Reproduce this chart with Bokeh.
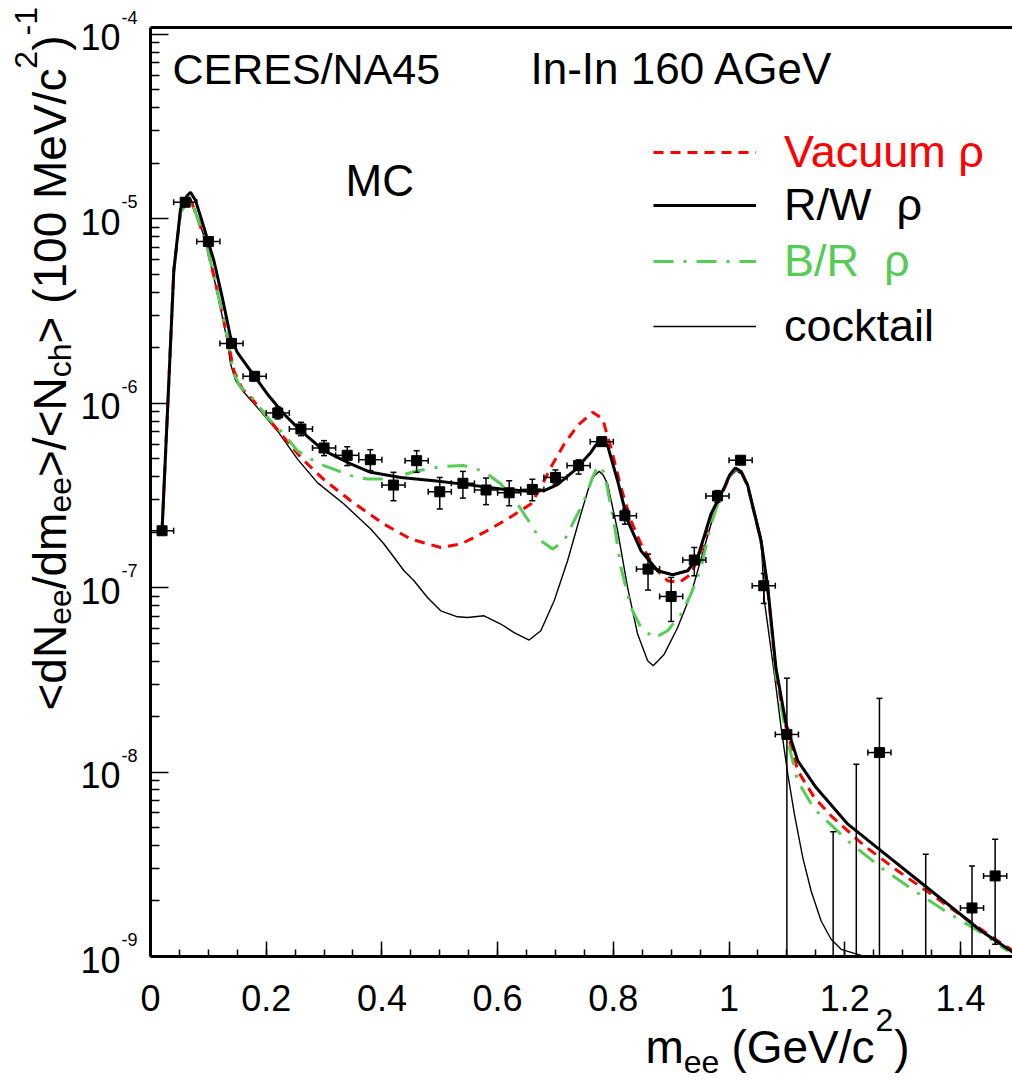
import math
from bokeh.plotting import figure
from bokeh.layouts import column, row
from bokeh.models import (Range1d, FixedTicker, Label, Legend, LegendItem, LinearAxis,
                          CustomJSTickFormatter, ColumnDataSource)
from bokeh.embed import file_html
from bokeh.resources import INLINE

FONT = "Liberation Sans"

# ---------------- data ----------------
pt_x = [0.02, 0.06, 0.10, 0.14, 0.18, 0.22, 0.26, 0.30, 0.34, 0.38, 0.42, 0.46,
        0.50, 0.54, 0.58, 0.62, 0.66, 0.70, 0.74, 0.78, 0.82, 0.86, 0.90, 0.94,
        0.98, 1.02, 1.06, 1.10, 1.18, 1.22, 1.26, 1.34, 1.42, 1.46]
pt_y = [2.035e-7, 1.23e-5, 7.53e-6, 2.11e-6, 1.40e-6, 8.86e-7, 7.25e-7, 5.72e-7,
        5.22e-7, 4.94e-7, 3.60e-7, 4.88e-7, 3.31e-7, 3.68e-7, 3.385e-7, 3.27e-7,
        3.41e-7, 3.96e-7, 4.59e-7, 6.19e-7, 2.455e-7, 1.261e-7, 8.96e-8, 1.412e-7,
        3.14e-7, 4.91e-7, 1.024e-7, 1.60e-8, 5e-10, 5e-10, 1.276e-8, 5e-10,
        1.833e-9, 2.735e-9]
pt_lo = [2.0e-7, 1.20e-5, 7.2e-6, 2.02e-6, 1.33e-6, 8.22e-7, 6.67e-7, 5.20e-7,
         4.59e-7, 4.31e-7, 2.96e-7, 4.22e-7, 2.67e-7, 3.06e-7, 2.82e-7, 2.78e-7,
         2.96e-7, 3.65e-7, 4.13e-7, 5.89e-7, 2.21e-7, 9.70e-8, 6.56e-8, 1.16e-7,
         2.90e-7, 4.70e-7, 8.21e-8, 1e-10, 1e-10, 1e-10, 1e-10, 1e-10,
         1e-10, 1.165e-9]
pt_hi = [2.07e-7, 1.26e-5, 7.9e-6, 2.20e-6, 1.47e-6, 9.55e-7, 7.88e-7, 6.27e-7,
         5.81e-7, 5.60e-7, 4.22e-7, 5.53e-7, 3.96e-7, 4.27e-7, 3.93e-7, 3.80e-7,
         3.87e-7, 4.35e-7, 4.93e-7, 6.53e-7, 2.67e-7, 1.521e-7, 1.136e-7, 1.652e-7,
         3.36e-7, 5.13e-7, 1.194e-7, 3.23e-8, 4.75e-9, 1.104e-8, 2.51e-8, 3.59e-9,
         3.10e-9, 4.32e-9]
pt_xerr = [0.02] * len(pt_x)

rw_x = [0.0202, 0.0289, 0.0403, 0.0519, 0.0635, 0.0692, 0.0779, 0.0922, 0.1095,
        0.1240, 0.1384, 0.15, 0.173, 0.2019, 0.2306, 0.2595, 0.2998, 0.346, 0.3806,
        0.4325, 0.4901, 0.5479, 0.6055, 0.6517, 0.6804, 0.7036, 0.7324, 0.7612,
        0.770, 0.7785, 0.785, 0.7901, 0.8074, 0.8247, 0.8478, 0.8766, 0.9026, 0.9286,
        0.9458, 0.9689, 0.9919, 1.0015, 1.0109, 1.0215, 1.0324, 1.0554, 1.067,
        1.0813, 1.0986, 1.1189, 1.1505, 1.2054, 1.263, 1.3206, 1.3784, 1.436, 1.4917]
rw_y = [2.12e-7, 8.38e-7, 5.24e-6, 1.133e-5, 1.338e-5, 1.394e-5, 1.257e-5, 9.0e-6,
        5.94e-6, 3.75e-6, 2.28e-6, 1.89e-6, 1.50e-6, 1.123e-6, 8.75e-7, 7.10e-7,
        5.53e-7, 4.69e-7, 4.22e-7, 3.96e-7, 3.80e-7, 3.62e-7, 3.43e-7, 3.33e-7,
        3.36e-7, 3.62e-7, 4.31e-7, 5.41e-7, 5.95e-7, 6.27e-7, 6.2e-7, 5.89e-7,
        3.80e-7, 2.31e-7, 1.586e-7, 1.235e-7, 1.175e-7, 1.235e-7, 1.458e-7, 2.51e-7,
        3.50e-7, 4.1e-7, 4.46e-7, 4.25e-7, 3.57e-7, 1.797e-7, 1.0e-7, 3.63e-8,
        1.82e-8, 1.15e-8, 8.24e-9, 5.22e-9, 3.74e-9, 2.68e-9, 1.92e-9, 1.375e-9,
        1.05e-9]

vac_x = [0.0202, 0.0289, 0.0403, 0.0519, 0.068, 0.0952, 0.1154, 0.1327, 0.1441,
         0.1587, 0.173, 0.2019, 0.2306, 0.2595, 0.2998, 0.346, 0.4036, 0.4498,
         0.5017, 0.5363, 0.5766, 0.6171, 0.6574, 0.6747, 0.692, 0.7151, 0.7382,
         0.7642, 0.7815, 0.7958, 0.8131, 0.8304, 0.8478, 0.8708, 0.8939, 0.914,
         0.9343, 0.9516, 0.9689, 0.9919, 1.0015, 1.0109, 1.0215, 1.0324, 1.0554,
         1.067, 1.0813, 1.0986, 1.1189, 1.1476, 1.1765, 1.2341, 1.2919, 1.3495,
         1.4071, 1.4649, 1.4917]
vac_y = [2.12e-7, 8.38e-7, 5.24e-6, 1.082e-5, 1.31e-5, 7.62e-6, 4.08e-6, 2.28e-6,
         1.50e-6, 1.196e-6, 1.076e-6, 8.38e-7, 6.53e-7, 5.09e-7, 3.85e-7, 2.96e-7,
         2.21e-7, 1.835e-7, 1.652e-7, 1.724e-7, 1.993e-7, 2.356e-7, 2.84e-7,
         3.50e-7, 4.49e-7, 6.01e-7, 7.56e-7, 8.93e-7, 8.22e-7, 5.76e-7, 3.50e-7,
         2.31e-7, 1.724e-7, 1.287e-7, 1.09e-7, 1.067e-7, 1.185e-7, 1.586e-7,
         2.455e-7, 3.44e-7, 4.05e-7, 4.40e-7, 4.2e-7, 3.55e-7, 1.78e-7, 9.8e-8,
         3.4e-8, 1.745e-8, 1.015e-8, 7.27e-9, 5.79e-9, 3.98e-9, 2.91e-9, 2.175e-9,
         1.623e-9, 1.214e-9, 1.07e-9]

br_x = [0.0202, 0.0289, 0.0403, 0.0519, 0.068, 0.0952, 0.1154, 0.1327, 0.1384,
        0.1441, 0.1557, 0.173, 0.2019, 0.2306, 0.2538, 0.2768, 0.2998, 0.346,
        0.3749, 0.4036, 0.4325, 0.4614, 0.5017, 0.542, 0.5766, 0.6055, 0.6344,
        0.6574, 0.6747, 0.695, 0.7151, 0.7324, 0.7497, 0.7642, 0.770, 0.7756,
        0.781, 0.7872, 0.8016, 0.8131, 0.8304, 0.8478, 0.8708, 0.8939, 0.917,
        0.9343, 0.9516, 0.9689, 0.9862, 0.9985, 1.0109, 1.0215, 1.0324, 1.0554,
        1.067, 1.0813, 1.0986, 1.1189, 1.1476, 1.2054, 1.263, 1.3206, 1.3784,
        1.436, 1.4822]
br_y = [2.12e-7, 8.38e-7, 5.24e-6, 1.082e-5, 1.31e-5, 7.62e-6, 4.08e-6, 2.28e-6,
        1.774e-6, 1.442e-6, 1.22e-6, 1.10e-6, 8.38e-7, 6.81e-7, 5.53e-7, 4.99e-7,
        4.59e-7, 4.05e-7, 3.88e-7, 3.88e-7, 4.05e-7, 4.31e-7, 4.53e-7, 4.59e-7,
        4.27e-7, 3.65e-7, 2.84e-7, 2.21e-7, 1.797e-7, 1.62e-7, 1.797e-7, 2.31e-7,
        2.96e-7, 3.96e-7, 4.35e-7, 4.59e-7, 4.4e-7, 3.80e-7, 2.21e-7, 1.287e-7,
        7.81e-8, 6.08e-8, 5.33e-8, 5.84e-8, 7.19e-8, 9.23e-8, 1.287e-7, 2.21e-7,
        3.22e-7, 3.95e-7, 4.40e-7, 4.2e-7, 3.55e-7, 1.78e-7, 9.8e-8, 3.3e-8, 1.6e-8,
        8.9e-9, 6.3e-9, 4.23e-9, 3.03e-9, 2.266e-9, 1.728e-9, 1.346e-9, 1.07e-9]

ck_x = [0.0202, 0.0289, 0.0403, 0.0519, 0.0692, 0.0952, 0.1154, 0.1327, 0.1384,
        0.1471, 0.1614, 0.1846, 0.2192, 0.2538, 0.2884, 0.3344, 0.3806, 0.4036,
        0.4382, 0.4555, 0.4787, 0.5017, 0.5306, 0.5479, 0.5766, 0.6055, 0.6285,
        0.6545, 0.6747, 0.6978, 0.7209, 0.7439, 0.7612, 0.769, 0.7756, 0.782,
        0.7901, 0.8074, 0.8247, 0.842, 0.8593, 0.869, 0.8881, 0.9112, 0.9343,
        0.9573, 0.9804, 1.0005, 1.0121, 1.022, 1.0324, 1.0554, 1.0611, 1.0784,
        1.09, 1.1016, 1.113, 1.1275, 1.1419, 1.1592, 1.1765, 1.1938, 1.2168, 1.24]
ck_y = [2.12e-7, 8.38e-7, 5.11e-6, 1.069e-5, 1.297e-5, 7.62e-6, 3.98e-6, 2.186e-6,
        1.633e-6, 1.326e-6, 1.146e-6, 9.50e-7, 7.10e-7, 4.99e-7, 3.71e-7, 2.84e-7,
        2.08e-7, 1.724e-7, 1.235e-7, 1.09e-7, 8.85e-8, 7.49e-8, 6.95e-8, 6.89e-8,
        7.04e-8, 6.35e-8, 5.71e-8, 5.20e-8, 5.84e-8, 8.49e-8, 1.40e-7, 2.51e-7,
        3.80e-7, 4.1e-7, 4.27e-7, 4.1e-7, 3.65e-7, 2.04e-7, 1.0e-7, 5.60e-8,
        4.01e-8, 3.77e-8, 4.36e-8, 6.08e-8, 9.23e-8, 1.652e-7, 2.96e-7, 3.96e-7,
        4.31e-7, 4.12e-7, 3.65e-7, 1.873e-7, 8.49e-8, 3.40e-8, 1.745e-8, 9.74e-9,
        5.91e-9, 3.44e-9, 2.266e-9, 1.558e-9, 1.24e-9, 1.094e-9, 1.04e-9, 9.9e-10]

x_major = [0, 0.2, 0.4, 0.6, 0.8, 1.0, 1.2, 1.4]
x_major_labels = ["0", "0.2", "0.4", "0.6", "0.8", "1", "1.2", "1.4"]
x_minor = [round(0.05 * i, 2) for i in range(0, 30)]
y_decades = [-9, -8, -7, -6, -5, -4]
y_minor = [m * 10.0 ** k for k in range(-9, -4) for m in range(2, 10)]

legend_labels = ["Vacuum ρ", "R/W  ρ", "B/R  ρ", "cocktail"]
legend_colors = ["#ff0000", "#000000", "#55cc55", "#000000"]

X_START, X_END = 0.0, 1.49
Y_START, Y_END = 1e-9, 1.09e-4

# ---------------- layout geometry (page pixels) ----------------
LEFT_W = 138
MAIN_W, MAIN_H = 874, 968
B_LEFT, B_RIGHT, B_TOP, B_BOT = 12, 0, 27, 12
BOTTOM_H = 112
TOTAL_H = MAIN_H + BOTTOM_H
frame_w = MAIN_W - B_LEFT - B_RIGHT
frame_h = MAIN_H - B_TOP - B_BOT
frame_left_page = LEFT_W + B_LEFT
frame_bottom_page = B_TOP + frame_h
ppu = frame_w / (X_END - X_START)
ppd = frame_h / (math.log10(Y_END) - math.log10(Y_START))
MID = 0.347   # centre of the text box above the baseline, in em


def no_align(f):
    if "frame_align" in f.properties():
        f.frame_align = False


def blank_fig(w, h, xr, yr, ylog=False):
    f = figure(width=w, height=h, x_range=xr, y_range=yr,
               y_axis_type="log" if ylog else "linear",
               x_axis_location=None, y_axis_location=None,
               output_backend="svg", toolbar_location=None,
               min_border_left=0, min_border_right=0, min_border_top=0,
               min_border_bottom=0)
    f.grid.visible = False
    f.outline_line_color = None
    f.background_fill_color = "white"
    f.border_fill_color = "white"
    no_align(f)
    return f


# ---------------- main figure ----------------
p = figure(width=MAIN_W, height=MAIN_H, x_range=Range1d(X_START, X_END),
           y_range=Range1d(Y_START, Y_END), y_axis_type="log",
           output_backend="svg", toolbar_location=None,
           min_border_left=B_LEFT, min_border_right=B_RIGHT,
           min_border_top=B_TOP, min_border_bottom=B_BOT)
no_align(p)
p.grid.visible = False
p.outline_line_color = None
p.background_fill_color = "white"
p.border_fill_color = "white"

blank = CustomJSTickFormatter(code="return '';")
xa = p.xaxis[0]
xa.ticker = FixedTicker(ticks=x_major, minor_ticks=x_minor)
xa.formatter = blank
xa.major_label_text_font_size = "1px"
xa.major_label_standoff = 0
xa.major_tick_in = 15
xa.major_tick_out = 0
xa.minor_tick_in = 7
xa.minor_tick_out = 0
xa.axis_line_width = 3
xa.major_tick_line_width = 1.5
xa.minor_tick_line_width = 1.5

ya = p.yaxis[0]
ya.ticker = FixedTicker(ticks=[10.0 ** k for k in y_decades], minor_ticks=y_minor)
ya.formatter = blank
ya.major_label_text_font_size = "1px"
ya.major_label_standoff = 0
ya.major_tick_in = 18
ya.major_tick_out = 0
ya.minor_tick_in = 9
ya.minor_tick_out = 0
ya.axis_line_width = 3
ya.major_tick_line_width = 1.5
ya.minor_tick_line_width = 1.5

# top frame line (no ticks, no labels)
top_axis = LinearAxis(ticker=FixedTicker(ticks=[]), formatter=blank,
                      major_label_text_font_size="1px", major_label_standoff=0,
                      major_tick_in=0, major_tick_out=0, minor_tick_in=0,
                      minor_tick_out=0, axis_line_width=3)
p.add_layout(top_axis, "above")

# curves
ck = p.line(ck_x, ck_y, line_color="black", line_width=1.4)
vac = p.line(vac_x, vac_y, line_color="#ff0000", line_width=3, line_dash="10 7")
br = p.line(br_x, br_y, line_color="#55cc55", line_width=3, line_dash="20 10 3 10")
rw = p.line(rw_x, rw_y, line_color="black", line_width=3)

# data points with error bars
src = ColumnDataSource(dict(
    x=pt_x, y=pt_y, lo=pt_lo, hi=pt_hi,
    xl=[a - e for a, e in zip(pt_x, pt_xerr)],
    xr=[a + e for a, e in zip(pt_x, pt_xerr)]))
p.segment(x0="x", y0="lo", x1="x", y1="hi", source=src, line_color="black", line_width=1.5)
p.segment(x0="xl", y0="y", x1="xr", y1="y", source=src, line_color="black", line_width=1.5)
for col in ("hi", "lo"):
    p.scatter(x="x", y=col, source=src, marker="dash", size=6,
              line_color="black", line_width=1.5)
for col in ("xl", "xr"):
    p.scatter(x=col, y="y", source=src, marker="dash", angle=math.pi / 2, size=6,
              line_color="black", line_width=1.5)
p.scatter(x="x", y="y", source=src, marker="square", size=10,
          fill_color="black", line_color="black")

# legend: one block per entry so each label keeps its own colour
legend_rends = [vac, rw, br, ck]
legend_line_y = [154, 207, 263, 328]          # page rows of the sample lines
for lab_t, rend, colr, ly in zip(legend_labels, legend_rends, legend_colors, legend_line_y):
    lg = Legend(items=[LegendItem(label=lab_t, renderers=[rend])],
                location=(653 - frame_left_page, frame_bottom_page - ly - 24),
                glyph_width=103, glyph_height=20, label_standoff=28,
                label_text_font=FONT, label_text_font_size="45px",
                label_text_color=colr, border_line_color=None,
                background_fill_alpha=0, padding=0, margin=0, spacing=0,
                label_height=20)
    p.add_layout(lg)


def main_label(text, page_x, page_center_y, size):
    p.add_layout(Label(x=page_x - frame_left_page, y=frame_bottom_page - page_center_y,
                       x_units="screen", y_units="screen", text=text,
                       text_font=FONT, text_font_size=f"{size}px", text_color="black",
                       text_baseline="middle", text_align="left"))


main_label("CERES/NA45", 172, 68, 43)
main_label("In-In 160 AGeV", 530, 68, 44)
main_label("MC", 345, 180, 44)

# ---------------- left strip (full height): y tick labels + y title ----------------
ylo_strip = 10 ** (math.log10(Y_START) - (TOTAL_H - frame_bottom_page) / ppd)
yhi_strip = 10 ** (math.log10(Y_END) + B_TOP / ppd)
left = blank_fig(LEFT_W, TOTAL_H, Range1d(0, LEFT_W), Range1d(ylo_strip, yhi_strip), ylog=True)

for k in y_decades:
    left.add_layout(Label(x=120, y=10.0 ** k, text="10", x_units="data", y_units="data",
                          y_offset=-3, text_align="right", text_baseline="middle",
                          text_font=FONT, text_font_size="36px", text_color="black"))
    left.add_layout(Label(x=121, y=10.0 ** k, text=str(k), x_units="data", y_units="data",
                          y_offset=17, text_align="left", text_baseline="middle",
                          text_font=FONT, text_font_size="18px", text_color="black"))

# Helvetica/Arial advance widths (per 1000 em) to lay out the composite titles
W = {' ': 278, '(': 333, ')': 333, '/': 278, '<': 584, '>': 584, '-': 333,
     '0': 556, '1': 556, '2': 556, 'G': 778, 'M': 833, 'N': 722, 'V': 667,
     'c': 500, 'd': 556, 'e': 556, 'h': 556, 'm': 833}


def tw(s, size):
    return sum(W[c] for c in s) / 1000.0 * size


ytitle = [("<dN", "n"), ("ee", "sub"), ("/dm", "n"), ("ee", "sub"), (">/<N", "n"),
          ("ch", "sub"), ("> (100 MeV/c", "n"), ("2", "sup"), (")", "n"), ("-1", "sup")]
YT_MAIN, YT_SMALL = 46, 32
base_x = 65            # page column of the main baseline
cur = TOTAL_H - 710    # start row (bottom of the title), from the strip bottom
for txt, kind in ytitle:
    size = YT_MAIN if kind == "n" else YT_SMALL
    shift = {"n": 0, "sub": 6, "sup": -28}[kind]
    left.add_layout(Label(x=base_x + shift - MID * size, y=cur, x_units="screen",
                          y_units="screen", text=txt, angle=math.pi / 2,
                          text_align="left", text_baseline="middle", text_font=FONT,
                          text_font_size=f"{size}px", text_color="black"))
    cur += tw(txt, size)

# ---------------- bottom strip (under main): x tick labels + x title ----------------
bottom = blank_fig(MAIN_W, BOTTOM_H,
                   Range1d(X_START + (LEFT_W - frame_left_page) / ppu,
                           X_START + (LEFT_W + MAIN_W - frame_left_page) / ppu),
                   Range1d(0, BOTTOM_H))
for t, s in zip(x_major, x_major_labels):
    bottom.add_layout(Label(x=t, y=TOTAL_H - 997, x_units="data",
                            y_units="screen", text=s, text_align="center",
                            text_baseline="middle", text_font=FONT,
                            text_font_size="36px", text_color="black"))

xtitle = [("m", "n", 0), ("ee", "sub", 0), ("(GeV/c", "n", 12), ("2", "sup", 1), (")", "n", 1)]
XT_MAIN, XT_SMALL = 46, 32
curx = 645
base_line = 1062     # page row of the main baseline
for txt, kind, gap in xtitle:
    size = XT_MAIN if kind == "n" else XT_SMALL
    shift = {"n": 0, "sub": 11, "sup": -31}[kind]
    curx += gap
    cy = base_line + shift - MID * size
    bottom.add_layout(Label(x=curx - LEFT_W, y=TOTAL_H - cy, x_units="screen",
                            y_units="screen", text=txt, text_align="left",
                            text_baseline="middle", text_font=FONT,
                            text_font_size=f"{size}px", text_color="black"))
    curx += tw(txt, size)

layout = row(left, column(p, bottom))
open("out.html", "w").write(file_html(layout, INLINE))
